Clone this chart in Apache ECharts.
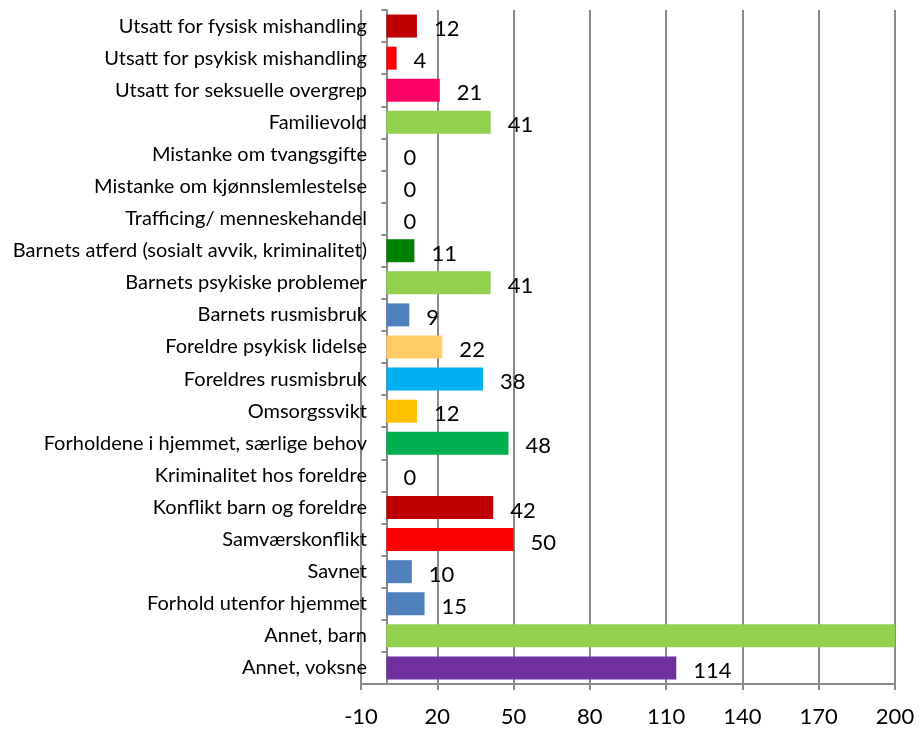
<!DOCTYPE html>
<html>
<head>
<meta charset="utf-8">
<script src="https://cdn.jsdelivr.net/npm/echarts@6/dist/echarts.min.js"></script>
<style>
  html, body { margin: 0; padding: 0; background: #fff; }
  #chart { width: 921px; height: 731px; }
</style>
</head>
<body>
<div id="chart"></div>
<script>
  // categories, top to bottom
  const categories = [
    'Utsatt for fysisk mishandling',
    'Utsatt for psykisk mishandling',
    'Utsatt for seksuelle overgrep',
    'Familievold',
    'Mistanke om tvangsgifte',
    'Mistanke om kjønnslemlestelse',
    'Trafficing/ menneskehandel',
    'Barnets atferd (sosialt avvik, kriminalitet)',
    'Barnets psykiske problemer',
    'Barnets rusmisbruk',
    'Foreldre psykisk lidelse',
    'Foreldres rusmisbruk',
    'Omsorgssvikt',
    'Forholdene i hjemmet, særlige behov',
    'Kriminalitet hos foreldre',
    'Konflikt barn og foreldre',
    'Samværskonflikt',
    'Savnet',
    'Forhold utenfor hjemmet',
    'Annet, barn',
    'Annet, voksne'
  ]
  // "Annet, barn" runs off the right edge of the chart
  const values = [12, 4, 21, 41, 0, 0, 0, 11, 41, 9, 22, 38, 12, 48, 0, 42, 50, 10, 15, 200, 114]
  const barColors = [
    '#C00000', '#FF0000', '#FF0066', '#92D050', '#92D050', '#92D050', '#92D050',
    '#008000', '#92D050', '#4F81BD', '#FFCC66', '#00B0F0', '#FFC000', '#00B050',
    '#92D050', '#C00000', '#FF0000', '#4F81BD', '#4F81BD', '#92D050', '#7030A0'
  ]
  const hiddenLabels = ['Annet, barn']
  const axisMin = -10
  const axisMax = 200
  const axisStep = 30

  let chart = echarts.init(document.getElementById('chart'))
  let labelFont = 'Lato, "Open Sans", sans-serif'
  let gray = '#8a8a8a'

  let option = {
    animation: false,
    grid: {
      left: 361,
      right: 26,
      top: 10,
      bottom: 47,
      outerBoundsMode: 'none'
    },
    xAxis: {
      type: 'value',
      min: axisMin,
      max: axisMax,
      interval: axisStep,
      axisLine: {show: true, onZero: false, lineStyle: {color: gray, width: 2}},
      axisTick: {show: true, length: 6, lineStyle: {color: gray, width: 2}},
      axisLabel: {
        color: '#000',
        fontFamily: labelFont,
        fontSize: 22,
        margin: 22
      },
      splitLine: {show: true, lineStyle: {color: gray, width: 2}}
    },
    yAxis: {
      type: 'category',
      inverse: true,
      data: categories,
      axisLine: {show: true, onZero: true, lineStyle: {color: gray, width: 2}},
      axisTick: {show: true, length: 5, lineStyle: {color: gray, width: 2}},
      axisLabel: {
        color: '#000',
        fontFamily: labelFont,
        fontSize: 20,
        // labels hang off the zero line, so they overlap the -10 gridline a little
        margin: -6
      },
      splitLine: {show: false}
    },
    series: [{
      type: 'bar',
      barWidth: 23,
      data: values.map((v, i) => ({
        value: v,
        itemStyle: {color: barColors[i]},
        label: {show: hiddenLabels.indexOf(categories[i]) < 0}
      })),
      label: {
        show: true,
        position: 'right',
        distance: 17,
        offset: [0, 3],
        color: '#000',
        fontFamily: labelFont,
        fontSize: 22
      }
    }]
  }
  chart.setOption(option)
</script>
</body>
</html>
